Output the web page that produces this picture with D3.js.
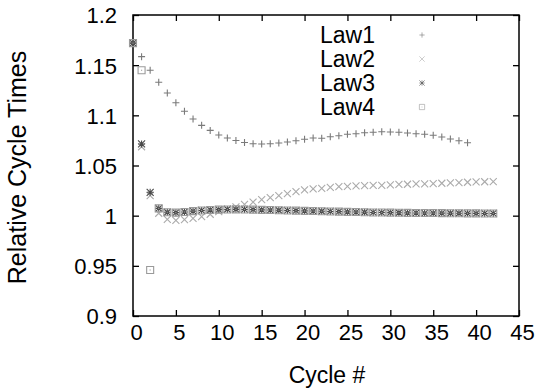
<!DOCTYPE html>
<html>
<head>
<meta charset="utf-8">
<script src="https://cdn.jsdelivr.net/npm/d3@7"></script>
<style>
  html, body { margin: 0; padding: 0; background: #fff; }
  svg { display: block; font-family: "Liberation Sans", Arial, Helvetica, sans-serif; }
</style>
</head>
<body>
<svg id="chart" width="537" height="391"></svg>
<script>
// Relative cycle time per cycle for four control laws
const law1Cycles = d3.range(0, 40);
const law1Values = [
  1.1720, 1.1585, 1.1449, 1.1330, 1.1223, 1.1126, 1.1040, 1.0964, 1.0900, 1.0850,
  1.0804, 1.0774, 1.0749, 1.0729, 1.0717, 1.0714, 1.0717, 1.0725, 1.0734, 1.0747,
  1.0761, 1.0774, 1.0771, 1.0787, 1.0797, 1.0811, 1.0817, 1.0827, 1.0831, 1.0837,
  1.0834, 1.0831, 1.0824, 1.0817, 1.0811, 1.0801, 1.0784, 1.0764, 1.0747, 1.0727
];

const law2Cycles = d3.range(0, 43);
const law2Values = [
  1.1720, 1.0687, 1.0199, 1.0024, 0.9964, 0.9954, 0.9960, 0.9974, 0.9990, 1.0014,
  1.0040, 1.0065, 1.0088, 1.0113, 1.0136, 1.0159, 1.0179, 1.0199, 1.0219, 1.0239,
  1.0256, 1.0266, 1.0273, 1.0283, 1.0289, 1.0293, 1.0296, 1.0299, 1.0301, 1.0303,
  1.0306, 1.0311, 1.0313, 1.0316, 1.0316, 1.0319, 1.0323, 1.0326, 1.0329, 1.0333,
  1.0336, 1.0338, 1.0339
];

const law3Cycles = d3.range(0, 43);
const law3Values = [
  1.1720, 1.0715, 1.0233, 1.0073, 1.0034, 1.0030, 1.0037, 1.0045, 1.0052, 1.0057,
  1.0060, 1.0062, 1.0063, 1.0062, 1.0060, 1.0058, 1.0056, 1.0054, 1.0052, 1.0050,
  1.0048, 1.0046, 1.0044, 1.0042, 1.0040, 1.0038, 1.0036, 1.0034, 1.0032, 1.0031,
  1.0030, 1.0029, 1.0028, 1.0027, 1.0026, 1.0026, 1.0025, 1.0024, 1.0024, 1.0023,
  1.0023, 1.0022, 1.0022
];

const law4Cycles = d3.range(0, 43);
const law4Values = [
  1.1720, 1.1450, 0.9459, 1.0073, 1.0034, 1.0030, 1.0037, 1.0045, 1.0052, 1.0057,
  1.0060, 1.0062, 1.0063, 1.0062, 1.0060, 1.0058, 1.0056, 1.0054, 1.0052, 1.0050,
  1.0048, 1.0046, 1.0044, 1.0042, 1.0040, 1.0038, 1.0036, 1.0034, 1.0032, 1.0031,
  1.0030, 1.0029, 1.0028, 1.0027, 1.0026, 1.0026, 1.0025, 1.0024, 1.0024, 1.0023,
  1.0023, 1.0022, 1.0022
];

const seriesNames = ["Law1", "Law2", "Law3", "Law4"];
const xTicks = [0, 5, 10, 15, 20, 25, 30, 35, 40, 45];
const yTicks = [0.9, 0.95, 1, 1.05, 1.1, 1.15, 1.2];
const yTickLabels = ["0.9", "0.95", "1", "1.05", "1.1", "1.15", "1.2"];

const series = [
  { name: seriesNames[0], xs: law1Cycles, ys: law1Values, kind: "plus",   color: "#7a7a7a" },
  { name: seriesNames[1], xs: law2Cycles, ys: law2Values, kind: "cross",  color: "#ababab" },
  { name: seriesNames[2], xs: law3Cycles, ys: law3Values, kind: "star",   color: "#4a4a4a" },
  { name: seriesNames[3], xs: law4Cycles, ys: law4Values, kind: "square", color: "#9a9a9a" }
];

const svg = d3.select("#chart");
const plotLeft = 133, plotRight = 519, plotTop = 15, plotBottom = 316;

const x = d3.scaleLinear().domain([0, 45]).range([plotLeft, plotRight]);
const y = d3.scaleLinear().domain([0.9, 1.2]).range([plotBottom, plotTop]);

const fontSize = 22;
const tickLen = 6;

// point glyph paths, centred on 0,0
function glyph(kind) {
  const r = 3.5;
  switch (kind) {
    case "plus":  return `M${-r},0H${r}M0,${-r}V${r}`;
    case "cross": return `M${-r},${-r}L${r},${r}M${-r},${r}L${r},${-r}`;
    case "star":  return `M${-r},0H${r}M0,${-r}V${r}M${-r},${-r}L${r},${r}M${-r},${r}L${r},${-r}`;
    case "square": return `M${-r},${-r}H${r}V${r}H${-r}Z M-0.6,0H0.6`;
  }
}

// axes: ticks on all four sides, pointing inwards
const gx = svg.append("g").attr("transform", `translate(0,${plotBottom})`)
  .call(d3.axisBottom(x).tickValues(xTicks).tickSize(-tickLen).tickPadding(0).tickFormat(d3.format("d")));
const gxTop = svg.append("g").attr("transform", `translate(0,${plotTop})`)
  .call(d3.axisTop(x).tickValues(xTicks).tickSize(-tickLen).tickFormat(""));
const gy = svg.append("g").attr("transform", `translate(${plotLeft},0)`)
  .call(d3.axisLeft(y).tickValues(yTicks).tickSize(-tickLen)
    .tickFormat((d, i) => yTickLabels[i]));
const gyRight = svg.append("g").attr("transform", `translate(${plotRight},0)`)
  .call(d3.axisRight(y).tickValues(yTicks).tickSize(-tickLen).tickFormat(""));

[gx, gxTop, gy, gyRight].forEach(g => {
  g.select(".domain").remove();
  g.selectAll(".tick line").attr("stroke", "#000").attr("stroke-width", 1.3);
});

gx.selectAll(".tick text")
  .attr("font-size", fontSize).attr("fill", "#000")
  .attr("dy", null).attr("y", 24).attr("x", 3)
  .attr("dominant-baseline", "auto");

gy.selectAll(".tick text")
  .attr("font-size", fontSize).attr("fill", "#000")
  .attr("x", -16).attr("dy", "0.36em");

// frame
svg.append("rect")
  .attr("x", plotLeft).attr("y", plotTop)
  .attr("width", plotRight - plotLeft).attr("height", plotBottom - plotTop)
  .attr("fill", "none").attr("stroke", "#000").attr("stroke-width", 1.5);

// data points
const plot = svg.append("g");
series.forEach(s => {
  plot.append("g").selectAll("path")
    .data(s.xs.map((c, i) => [c, s.ys[i]]))
    .join("path")
    .attr("transform", d => `translate(${x(d[0])},${y(d[1])})`)
    .attr("d", glyph(s.kind))
    .attr("fill", "none")
    .attr("stroke", s.color)
    .attr("stroke-width", 1.1);
});

// key
const key = svg.append("g");
series.forEach((s, i) => {
  const by = 43 + i * 24;
  key.append("text")
    .attr("x", 375).attr("y", by)
    .attr("text-anchor", "end")
    .attr("font-size", 23)
    .attr("fill", "#000")
    .text(s.name);
  key.append("path")
    .attr("transform", `translate(422,${by - 8}) scale(0.75)`)
    .attr("d", glyph(s.kind))
    .attr("fill", "none")
    .attr("stroke", s.color)
    .attr("stroke-width", 1)
    .attr("opacity", 0.8);
});

// axis titles
svg.append("text")
  .attr("x", 327).attr("y", 383)
  .attr("text-anchor", "middle")
  .attr("font-size", 23)
  .attr("fill", "#000")
  .text("Cycle #");

svg.append("text")
  .attr("transform", `translate(26,${(plotTop + plotBottom) / 2 + 2}) rotate(-90)`)
  .attr("text-anchor", "middle")
  .attr("font-size", 25)
  .attr("fill", "#000")
  .text("Relative Cycle Times");
</script>
</body>
</html>
